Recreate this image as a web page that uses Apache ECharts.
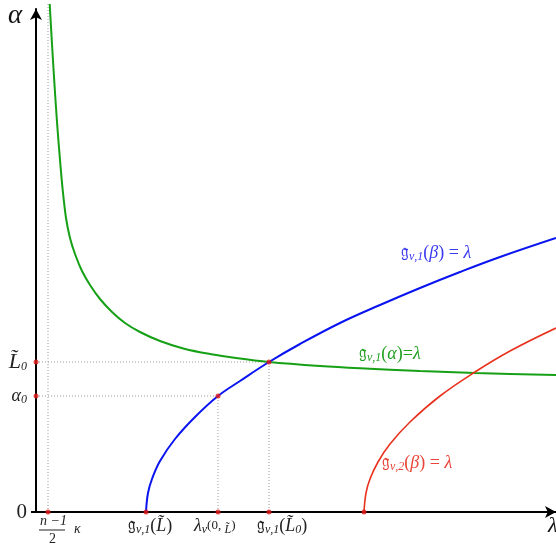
<!DOCTYPE html>
<html>
<head>
<meta charset="utf-8">
<script src="https://cdn.jsdelivr.net/npm/echarts@6/dist/echarts.min.js"></script>
<style>
  html, body { margin: 0; padding: 0; background: #fff; }
  #chart { width: 556px; height: 547px; }
</style>
</head>
<body>
<div id="chart"></div>
<script>
// positions on the lambda axis and alpha axis (chart units)
const xMarks = [12, 110, 182, 233, 328];
const yMarks = [0, 116, 150];
const alpha0 = 116;
const L0 = 150;

// curves
const greenCurve = [
    [13.7, 508], [16, 468], [18.7, 424], [21.3, 386], [24, 352], [26.7, 322],
    [30, 294], [34, 274], [39, 258], [46, 241], [54, 227], [64, 213], [76, 200],
    [89, 189], [104, 180], [124, 171], [149, 163], [174, 158], [200, 154],
    [233, 150], [284, 146], [324, 143.7], [384, 141], [439, 139], [520, 137]
];
const blueCurve = [
    [110, 0], [112, 19], [116, 33], [124, 51], [139, 73], [159, 95], [182, 116],
    [204, 131], [233, 150], [264, 168], [304, 189], [344, 207], [384, 224],
    [424, 240], [464, 255], [520, 274]
];
const redCurve = [
    [328, 0], [330, 19], [334, 33], [342, 50], [354, 68], [374, 90],
    [404, 116], [439, 140], [474, 161], [520, 184]
];

const serif = 'Liberation Serif';
const mathRich = {
    g: { fontFamily: 'DejaVu Serif', fontSize: 17, lineHeight: 20 },
    t: { fontFamily: serif, fontSize: 18, fontStyle: 'italic', lineHeight: 20 },
    r: { fontFamily: serif, fontSize: 18, lineHeight: 20 },
    sub: { fontFamily: serif, fontSize: 12, fontStyle: 'italic', lineHeight: 20, verticalAlign: 'bottom' },
    small: { fontFamily: serif, fontSize: 13, lineHeight: 20 },
    big: { fontFamily: serif, fontSize: 21, lineHeight: 22 },
    bigi: { fontFamily: serif, fontSize: 22, fontStyle: 'italic', lineHeight: 22 }
};

const xLabels = [
    { left: 128, text: '{g|𝔤}{sub|ν,1}{r|(}{t|L̃}{r|)}' },
    { left: 194, text: '{t|λ}{sub|ν}{small|(0, }{sub|L̃}{small|)}' },
    { left: 257, text: '{g|𝔤}{sub|ν,1}{r|(}{t|L̃}{sub|0}{r|)}' }
];
const yLabelText = {
    0: '{big|0}',
    116: '{t|α}{sub|0}',
    150: '{bigi|L̃}{sub|0}'
};

const guides = [
    [[12, 0], [12, 510]],
    [[0, L0], [233, L0], [233, 0]],
    [[0, alpha0], [182, alpha0], [182, 0]]
];
const redDots = xMarks.map(x => [x, 0]).concat([[0, L0], [0, alpha0], [182, alpha0], [233, L0]]);

const chart = echarts.init(document.getElementById('chart'), null, { renderer: 'canvas' });

const guideSeries = guides.map(g => ({
    type: 'line',
    data: g,
    symbol: 'none',
    clip: false,
    silent: true,
    lineStyle: { color: '#9a9a9a', width: 1, type: [1, 2] },
    z: 1
}));

const option = {
    animation: false,
    backgroundColor: '#fff',
    grid: { left: 36, right: 0, top: 9, bottom: 35 },
    xAxis: {
        type: 'value',
        min: 0,
        max: 520,
        splitLine: { show: false },
        axisLine: { lineStyle: { color: '#000', width: 2 }, symbol: ['none', 'arrow'], symbolSize: [9, 11] },
        axisTick: { show: false },
        axisLabel: { show: false }
    },
    yAxis: {
        type: 'value',
        min: 0,
        max: 503,
        splitLine: { show: false },
        axisLine: { lineStyle: { color: '#000', width: 2 }, symbol: ['none', 'arrow'], symbolSize: [9, 11] },
        axisTick: { customValues: [0], length: 5, lineStyle: { color: '#000', width: 2 } },
        axisLabel: {
            customValues: yMarks,
            margin: 9,
            color: '#222',
            formatter: v => yLabelText[v] || '',
            rich: mathRich
        }
    },
    graphic: [
        { type: 'text', left: 8, top: 2, style: { text: 'α', font: 'italic 27px "Liberation Serif"', fill: '#111' } },
        { type: 'text', left: 548, top: 515, style: { text: 'λ', font: 'italic 22px "Liberation Serif"', fill: '#111' } },
        // (n-1)/2 kappa fraction
        { type: 'text', left: 40, top: 514, style: { text: 'n −1', font: 'italic 14px "Liberation Serif"', fill: '#222' } },
        { type: 'line', shape: { x1: 39, y1: 530, x2: 65, y2: 530 }, style: { stroke: '#222', lineWidth: 1 } },
        { type: 'text', left: 49, top: 532, style: { text: '2', font: '14px "Liberation Serif"', fill: '#222' } },
        { type: 'text', left: 74, top: 522, style: { text: 'κ', font: 'italic 14px "Liberation Serif"', fill: '#222' } },
        {
            type: 'text', left: 401, top: 244,
            style: { text: '{g|𝔤}{sub|ν,1}{r|(}{t|β}{r|) = }{t|λ}', rich: mathRich, fill: '#3a3af0' }
        },
        {
            type: 'text', left: 359, top: 345,
            style: { text: '{g|𝔤}{sub|ν,1}{r|(}{t|α}{r|)=}{t|λ}', rich: mathRich, fill: '#22a022' }
        },
        {
            type: 'text', left: 382, top: 454,
            style: { text: '{g|𝔤}{sub|ν,2}{r|(}{t|β}{r|) = }{t|λ}', rich: mathRich, fill: '#e8463a' }
        }
    ].concat(xLabels.map(l => ({
        type: 'text', left: l.left, top: 517,
        style: { text: l.text, rich: mathRich, fill: '#222' }
    }))),
    series: guideSeries.concat([
        {
            name: 'green', type: 'line', data: greenCurve, symbol: 'none', smooth: 0.3, clip: false,
            lineStyle: { color: '#16a016', width: 2 }, z: 3
        },
        {
            name: 'blue', type: 'line', data: blueCurve, symbol: 'none', smooth: 0.4,
            lineStyle: { color: '#0a14f0', width: 2 }, z: 3
        },
        {
            name: 'red', type: 'line', data: redCurve, symbol: 'none', smooth: 0.4,
            lineStyle: { color: '#e8321e', width: 1.6 }, z: 3
        },
        {
            name: 'dots', type: 'scatter', data: redDots, symbolSize: 5, clip: false,
            itemStyle: { color: '#e01818' }, z: 5
        }
    ])
};

chart.setOption(option);
</script>
</body>
</html>
